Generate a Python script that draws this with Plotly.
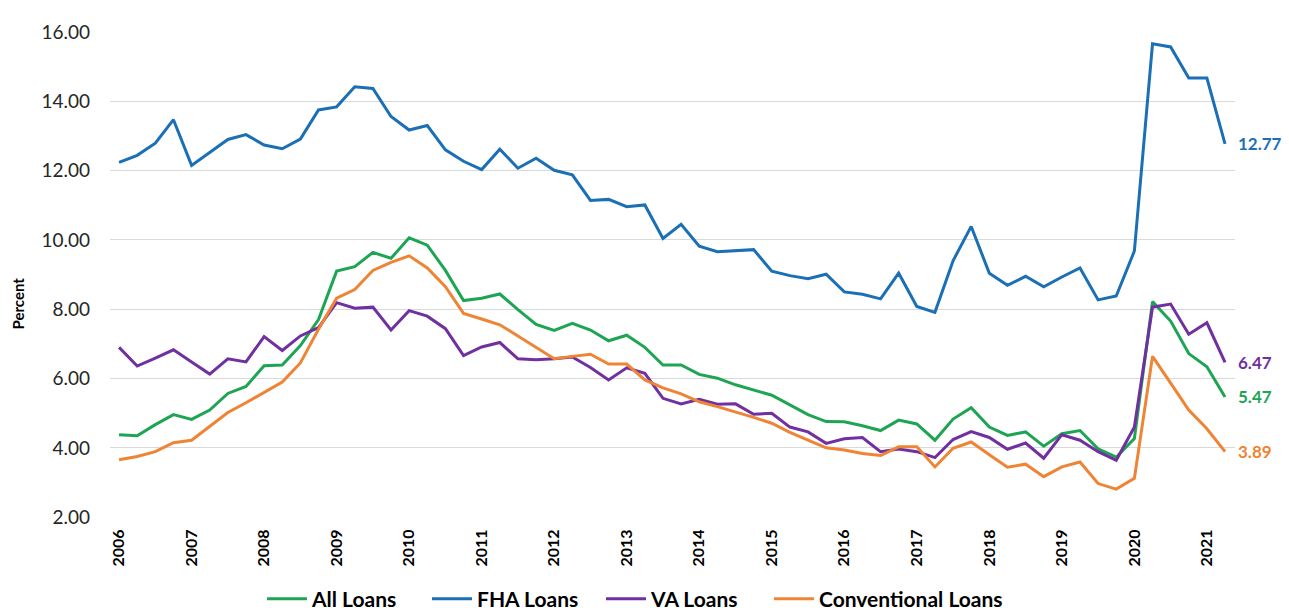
import plotly.graph_objects as go

years = [str(y) for y in range(2006, 2022)]
quarters = list(range(62))  # 2006Q1 .. 2021Q2

all_loans = [4.38, 4.35, 4.67, 4.96, 4.82, 5.09, 5.57, 5.77, 6.37, 6.39, 6.95, 7.70, 9.10, 9.23, 9.64, 9.47,
             10.06, 9.85, 9.12, 8.25, 8.32, 8.44, 7.99, 7.56, 7.39, 7.59, 7.40, 7.09, 7.25, 6.90, 6.39, 6.39,
             6.12, 6.01, 5.82, 5.66, 5.52, 5.24, 4.96, 4.76, 4.75, 4.64, 4.50, 4.80, 4.69, 4.22, 4.83, 5.16,
             4.60, 4.36, 4.46, 4.05, 4.41, 4.50, 3.97, 3.73, 4.27, 8.22, 7.66, 6.72, 6.34, 5.47]
fha_loans = [12.24, 12.44, 12.79, 13.47, 12.15, 12.53, 12.90, 13.04, 12.74, 12.63, 12.91, 13.75, 13.84, 14.42, 14.37, 13.56,
             13.17, 13.30, 12.60, 12.27, 12.03, 12.62, 12.07, 12.36, 12.01, 11.88, 11.14, 11.17, 10.96, 11.01, 10.04, 10.45,
             9.82, 9.66, 9.69, 9.72, 9.10, 8.97, 8.88, 9.01, 8.50, 8.43, 8.30, 9.04, 8.08, 7.91, 9.40, 10.39,
             9.04, 8.69, 8.95, 8.65, 8.93, 9.19, 8.27, 8.38, 9.68, 15.66, 15.57, 14.67, 14.67, 12.77]
va_loans = [6.90, 6.36, 6.59, 6.83, 6.48, 6.13, 6.57, 6.48, 7.21, 6.81, 7.23, 7.47, 8.19, 8.03, 8.06, 7.40,
            7.96, 7.80, 7.44, 6.66, 6.91, 7.04, 6.57, 6.54, 6.57, 6.62, 6.32, 5.96, 6.31, 6.15, 5.43, 5.27,
            5.40, 5.26, 5.27, 4.97, 5.00, 4.60, 4.46, 4.13, 4.26, 4.30, 3.89, 3.97, 3.89, 3.72, 4.24, 4.47,
            4.30, 3.96, 4.14, 3.70, 4.38, 4.22, 3.89, 3.64, 4.60, 8.06, 8.15, 7.28, 7.61, 6.47]
conventional_loans = [3.66, 3.75, 3.89, 4.15, 4.22, 4.62, 5.02, 5.30, 5.61, 5.90, 6.45, 7.42, 8.32, 8.57, 9.12, 9.35,
                      9.54, 9.19, 8.65, 7.88, 7.72, 7.55, 7.23, 6.90, 6.57, 6.64, 6.70, 6.42, 6.42, 5.96, 5.73, 5.56,
                      5.33, 5.19, 5.04, 4.88, 4.71, 4.45, 4.22, 4.00, 3.94, 3.84, 3.78, 4.03, 4.03, 3.45, 3.99, 4.17,
                      3.80, 3.44, 3.53, 3.17, 3.45, 3.59, 2.97, 2.81, 3.12, 6.64, 5.87, 5.09, 4.55, 3.89]

series_names = ["All Loans", "FHA Loans", "VA Loans", "Conventional Loans"]
series_values = [all_loans, fha_loans, va_loans, conventional_loans]
colors = ["#1EA553", "#1B6FB5", "#7030A0", "#EE8434"]

FONT = "Lato, 'Open Sans', sans-serif"

# page body has an 8px margin; compensate so the figure lands where the reference is
W, H = 1281, 604
L, R, T, B = 102, 54, 15, 94
OFF = 8

legend_ids = ["legend", "legend2", "legend3", "legend4"]
legend_left = [262, 427, 601, 769]  # window px where each legend entry starts

fig = go.Figure()
for name, vals, c, lid in zip(series_names, series_values, colors, legend_ids):
    fig.add_trace(go.Scatter(x=quarters, y=vals, mode="lines", name=name, legend=lid,
                             line=dict(color=c, width=3)))

# end labels
for i in [1, 2, 0, 3]:
    vals = series_values[i]
    fig.add_annotation(x=quarters[-1], y=vals[-1], text=f"{vals[-1]:.2f}",
                       xanchor="left", yanchor="middle", xshift=11, showarrow=False,
                       font=dict(family=FONT, size=17, color=colors[i], weight="bold"))

plot_w = W - L - R
plot_h = H - T - B
fig.add_annotation(xref="paper", yref="paper", x=(10 - L) / plot_w, y=(510 - 292) / plot_h,
                   text="Percent", textangle=-90, showarrow=False, xanchor="center", yanchor="middle",
                   font=dict(family=FONT, size=15, color="#000000", weight="bold"))

legend_y = 1 - (599 - OFF) / H
legends = {}
for lid, lx in zip(legend_ids, legend_left):
    legends[lid] = dict(orientation="h", xref="container", x=(lx - OFF) / W, xanchor="left",
                        yref="container", y=legend_y, yanchor="middle",
                        font=dict(family=FONT, size=21, color="#000000", weight="bold"),
                        itemwidth=40, bgcolor="rgba(0,0,0,0)")

fig.update_layout(
    width=W, height=H,
    margin=dict(l=L, r=R, t=T, b=B),
    paper_bgcolor="white", plot_bgcolor="white",
    font=dict(family=FONT, color="#262626"),
    showlegend=True,
    **legends,
)
fig.update_xaxes(range=[-0.5, 61.55], tickvals=quarters[::4], ticktext=years, tickangle=-90,
                 showgrid=False, zeroline=False, showline=False, ticks="", ticklabelstandoff=8,
                 tickfont=dict(family=FONT, size=16, color="#000000", weight="bold"))
fig.update_yaxes(range=[2, 16], dtick=2, tickformat=".2f", showgrid=True, gridcolor="#D9D9D9",
                 gridwidth=1, zeroline=False, showline=False, ticks="", ticklabelstandoff=19,
                 tickfont=dict(family=FONT, size=19, color="#262626"))

fig.write_html("out.html")
